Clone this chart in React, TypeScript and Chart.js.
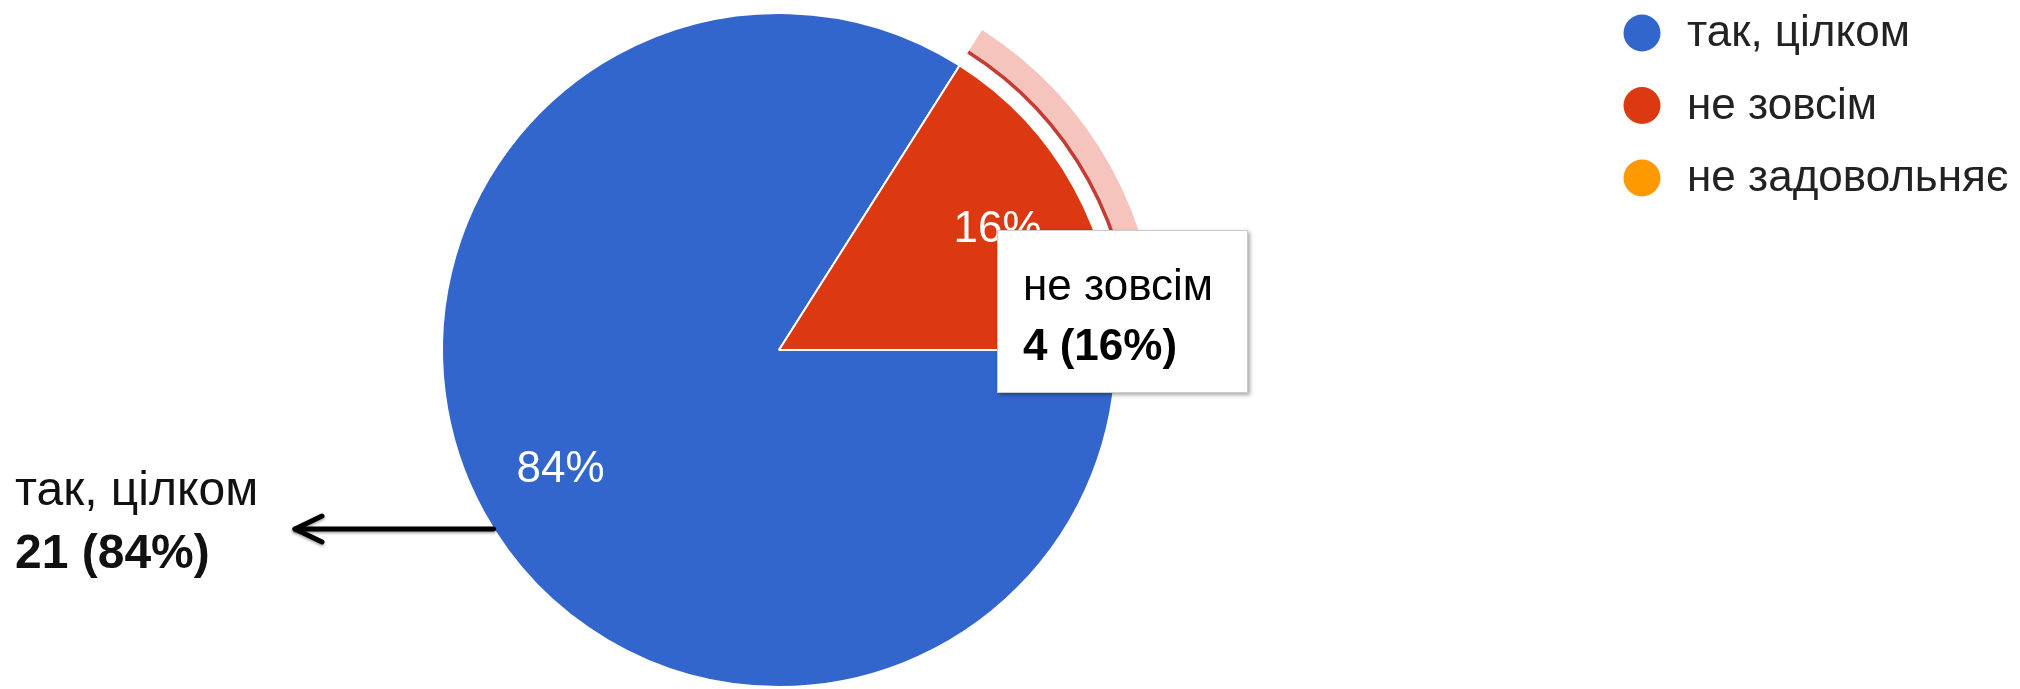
import React, { useEffect, useRef } from "react";
import { Chart, registerables } from "chart.js";

Chart.register(...registerables);

const categories = ["так, цілком", "не зовсім", "не задовольняє"];
const counts = [21, 4, 0];
const sliceColors = ["#3366cc", "#dc3912", "#ff9900"];
const highlightedIndex = 1;
const calloutIndex = 0;

const FONT = "'Liberation Sans', Arial, sans-serif";

function pct(i: number) {
  const total = counts.reduce((a, b) => a + b, 0);
  return Math.round((counts[i] / total) * 100);
}

const overlayPlugin = {
  id: "googleLikeOverlay",
  beforeDatasetsDraw(chart: any) {
    const ctx = chart.ctx as CanvasRenderingContext2D;
    const arc = chart.getDatasetMeta(0).data[highlightedIndex] as any;
    if (!arc) return;
    const { x, y, startAngle, endAngle, outerRadius } = arc.getProps(
      ["x", "y", "startAngle", "endAngle", "outerRadius"],
      true
    );
    ctx.save();
    ctx.beginPath();
    ctx.arc(x, y, outerRadius + 42, startAngle, endAngle);
    ctx.arc(x, y, outerRadius + 17, endAngle, startAngle, true);
    ctx.closePath();
    ctx.fillStyle = "rgba(230, 110, 90, 0.4)";
    ctx.fill();
    ctx.beginPath();
    ctx.arc(x, y, outerRadius + 16, startAngle, endAngle);
    ctx.strokeStyle = "rgba(190, 40, 30, 0.9)";
    ctx.lineWidth = 3.5;
    ctx.stroke();
    ctx.restore();
  },
  afterDatasetsDraw(chart: any) {
    const ctx = chart.ctx as CanvasRenderingContext2D;
    const arcs = chart.getDatasetMeta(0).data as any[];
    ctx.save();

    // slice percentage labels
    ctx.font = `44px ${FONT}`;
    ctx.fillStyle = "#ffffff";
    ctx.textAlign = "center";
    ctx.textBaseline = "middle";
    arcs.forEach((arc, i) => {
      if (!counts[i]) return;
      const p = arc.getProps(["x", "y", "startAngle", "endAngle", "outerRadius"], true);
      const mid = (p.startAngle + p.endAngle) / 2;
      const r = p.outerRadius * 0.74;
      ctx.fillText(`${pct(i)}%`, p.x + Math.cos(mid) * r, p.y + Math.sin(mid) * r);
    });

    // tooltip for highlighted slice
    const h = arcs[highlightedIndex].getProps(["x", "y", "outerRadius"], true);
    const bx = h.x + 218;
    const by = h.y - 120;
    const bw = 251;
    const bh = 163;
    ctx.save();
    ctx.shadowColor = "rgba(0,0,0,0.35)";
    ctx.shadowBlur = 4;
    ctx.shadowOffsetX = 2;
    ctx.shadowOffsetY = 2;
    ctx.fillStyle = "#ffffff";
    ctx.fillRect(bx, by, bw, bh);
    ctx.restore();
    ctx.strokeStyle = "#cccccc";
    ctx.lineWidth = 1;
    ctx.strokeRect(bx + 0.5, by + 0.5, bw - 1, bh - 1);
    ctx.textAlign = "left";
    ctx.textBaseline = "alphabetic";
    ctx.fillStyle = "#000000";
    ctx.font = `44px ${FONT}`;
    ctx.fillText(categories[highlightedIndex], bx + 26, by + 70);
    ctx.font = `bold 44px ${FONT}`;
    ctx.fillText(`${counts[highlightedIndex]} (${pct(highlightedIndex)}%)`, bx + 26, by + 130);

    // callout with arrow for the big slice
    const c = arcs[calloutIndex].getProps(["x", "y", "outerRadius"], true);
    const ay = c.y + 179;
    const edgeX = c.x - Math.sqrt(c.outerRadius * c.outerRadius - 179 * 179);
    const tipX = 295;
    ctx.save();
    ctx.shadowColor = "rgba(0,0,0,0.4)";
    ctx.shadowBlur = 3;
    ctx.shadowOffsetY = 1.5;
    ctx.strokeStyle = "#000000";
    ctx.lineWidth = 5;
    ctx.lineCap = "round";
    ctx.lineJoin = "round";
    ctx.beginPath();
    ctx.moveTo(edgeX, ay);
    ctx.lineTo(tipX, ay);
    ctx.stroke();
    ctx.beginPath();
    ctx.moveTo(tipX + 27, ay - 13);
    ctx.lineTo(tipX, ay);
    ctx.lineTo(tipX + 27, ay + 13);
    ctx.stroke();
    ctx.restore();
    ctx.fillStyle = "#111111";
    ctx.font = `48px ${FONT}`;
    ctx.fillText(categories[calloutIndex], 15, ay - 24);
    ctx.font = `bold 48px ${FONT}`;
    ctx.fillText(`${counts[calloutIndex]} (${pct(calloutIndex)}%)`, 15, ay + 39);

    // legend
    ctx.font = `44px ${FONT}`;
    ctx.textBaseline = "middle";
    categories.forEach((label, i) => {
      const ly = 33 + i * 72.5;
      ctx.beginPath();
      ctx.arc(1642, ly, 18.5, 0, Math.PI * 2);
      ctx.fillStyle = sliceColors[i];
      ctx.fill();
      ctx.fillStyle = "#222222";
      ctx.fillText(label, 1687, ly + 1);
    });

    ctx.restore();
  },
};

export default function App() {
  const canvasRef = useRef<HTMLCanvasElement | null>(null);

  useEffect(() => {
    document.body.style.margin = "0";
    const canvas = canvasRef.current;
    if (!canvas) return;
    const chart = new Chart(canvas, {
      type: "pie",
      data: {
        labels: categories,
        datasets: [
          {
            data: counts,
            backgroundColor: sliceColors,
            borderColor: "#ffffff",
            borderWidth: 2,
            hoverOffset: 0,
          },
        ],
      },
      options: {
        responsive: false,
        animation: false,
        events: [],
        rotation: 90,
        layout: { padding: { top: 12, bottom: 1, left: 441, right: 903 } },
        plugins: {
          legend: { display: false },
          tooltip: { enabled: false },
        },
      },
      plugins: [overlayPlugin],
    });
    return () => chart.destroy();
  }, []);

  return (
    <div style={{ position: "fixed", left: 0, top: 0, width: 2020, height: 689, background: "#fff", overflow: "hidden" }}>
      <canvas ref={canvasRef} width={2020} height={689} style={{ display: "block" }} />
    </div>
  );
}
